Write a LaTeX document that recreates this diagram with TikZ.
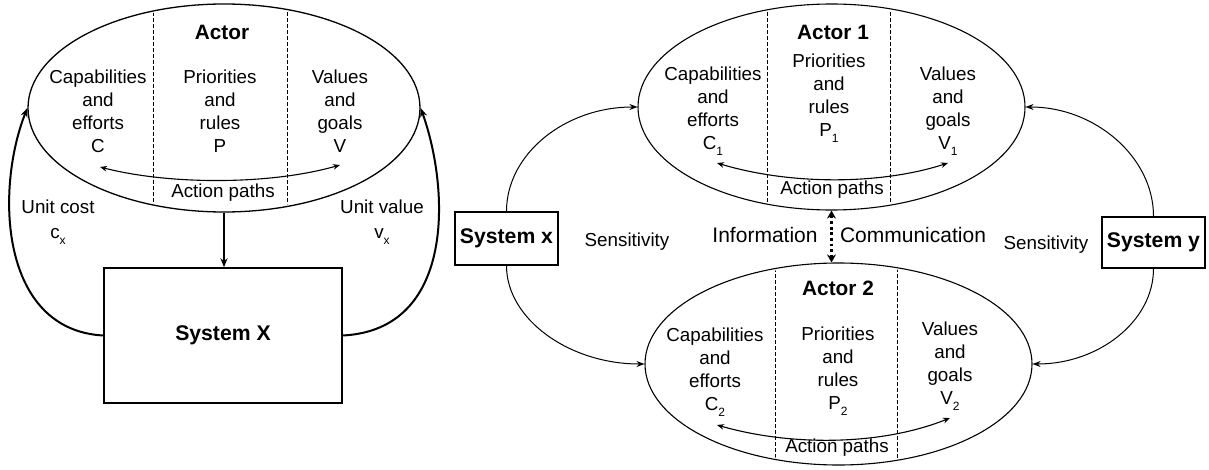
\documentclass[tikz,border=0pt]{standalone}
\usepackage{fontspec}
\setmainfont{Liberation Sans}
\usetikzlibrary{arrows.meta,shapes.geometric}
\newcommand{\lowsub}[1]{\raisebox{-0.55ex}{\fontsize{6}{6}\selectfont #1}}
\begin{document}
\begin{tikzpicture}[x=0.5pt,y=-0.5pt,
  lbl/.style={font=\fontsize{9.4}{11.5}\selectfont, align=center, inner sep=0pt},
  ttl/.style={font=\fontsize{10.4}{12}\selectfont\bfseries, inner sep=0pt},
  info/.style={font=\fontsize{10.5}{12}\selectfont, inner sep=0pt},
  actor/.style={draw, ellipse, line width=0.55pt, inner sep=0pt},
  sysbox/.style={draw, line width=0.7pt, inner sep=0pt, font=\fontsize{10.6}{12}\selectfont\bfseries},
  sep/.style={line width=0.5pt, dash pattern=on 2pt off 1pt},
  thinarr/.style={line width=0.5pt, -{Stealth[length=4pt,width=3pt]}},
  loopar/.style={line width=0.55pt, {Stealth[length=3.5pt,width=2.8pt]}-{Stealth[length=3.5pt,width=2.8pt]}},
  thickarr/.style={line width=1pt, -{Stealth[length=4.5pt,width=3.5pt]}}]
\useasboundingbox (0,0) rectangle (1209,470);

% ---------------- Left diagram ----------------
\node[actor, line width=0.65pt, minimum width=196pt, minimum height=104pt] (A) at (224,108) {};
\begin{scope}
  \clip (224,108) ellipse [x radius=97pt, y radius=51pt];
  \draw[sep] (153,0) -- (153,220);
  \draw[sep] (287,0) -- (287,220);
\end{scope}
\node[ttl] (At) at (222,32) {Actor};
\node[lbl] (Ac) at (98,111) {Capabilities\\and\\efforts\\C};
\node[lbl] (Ap) at (220,111) {Priorities\\and\\rules\\P};
\node[lbl] (Av) at (340,111) {Values\\and\\goals\\V};
\node[lbl] (Aa) at (223,193) {Action paths};
\coordinate (ac1) at (100,167);
\coordinate (ac2) at (340,165);
\draw[loopar] (ac1) .. controls (170,185) and (270,185) .. (ac2);

\node[sysbox, minimum width=119pt, minimum height=67.5pt] (X) at (223,335.5) {System X};
\draw[thickarr] (A.south) -- (A.south |- X.north);
\draw[thickarr] (X.west) .. controls (0,330) and (-5,190) .. (A.west);
\draw[thickarr] (X.east) .. controls (455,330) and (450,190) .. (A.east);
\node[lbl] (uc) at (58,222) {Unit cost\\[1pt]c\lowsub{x}};
\node[lbl] (uv) at (382,222) {Unit value\\[1pt]v\lowsub{x}};

% ---------------- Right diagram ----------------
\node[actor, minimum width=193.5pt, minimum height=103pt] (B1) at (831.5,107) {};
\begin{scope}
  \clip (831.5,107) ellipse [x radius=96pt, y radius=50.5pt];
  \draw[sep] (767,0) -- (767,220);
  \draw[sep] (890,0) -- (890,220);
\end{scope}
\node[ttl] (B1t) at (833,32) {Actor 1};
\node[lbl] (B1c) at (713,111) {Capabilities\\and\\efforts\\C\lowsub{1}};
\node[lbl] (B1p) at (829,98) {Priorities\\and\\rules\\P\lowsub{1}};
\node[lbl] (B1v) at (948,111) {Values\\and\\goals\\V\lowsub{1}};
\node[lbl] (B1a) at (832,190) {Action paths};
\coordinate (b1c1) at (717,163);
\coordinate (b1c2) at (948,163);
\draw[loopar] (b1c1) .. controls (790,185) and (880,185) .. (b1c2);

\node[actor, minimum width=193.5pt, minimum height=101pt] (B2) at (838.5,364) {};
\begin{scope}
  \clip (838.5,364) ellipse [x radius=96pt, y radius=49.5pt];
  \draw[sep] (775,250) -- (775,470);
  \draw[sep] (897,250) -- (897,470);
\end{scope}
\node[ttl] (B2t) at (838,288) {Actor 2};
\node[lbl] (B2c) at (715,372) {Capabilities\\and\\efforts\\C\lowsub{2}};
\node[lbl] (B2p) at (838,371) {Priorities\\and\\rules\\P\lowsub{2}};
\node[lbl] (B2v) at (950,366) {Values\\and\\goals\\V\lowsub{2}};
\node[lbl] (B2a) at (837,448) {Action paths};
\coordinate (b2c1) at (717,425);
\coordinate (b2c2) at (950,418);
\draw[loopar] (b2c1) .. controls (790,446) and (880,446) .. (b2c2);

\draw[line width=1.3pt, dash pattern=on 1.4pt off 1.4pt,
  {Stealth[length=4pt,width=4.5pt]}-{Stealth[length=4pt,width=4.5pt]}]
  (B1.south) -- (B1.south |- B2.north);
\node[info] (inf) at (765,235) {Information};
\node[info] (com) at (913,235) {Communication};

\node[sysbox, minimum width=51.5pt, minimum height=26.5pt] (Sx) at (506.5,238.5) {System x};
\node[sysbox, minimum width=51.5pt, minimum height=25.5pt] (Sy) at (1153.5,242.5) {System y};
\node[lbl] (sen1) at (627,242) {Sensitivity};
\node[lbl] (sen2) at (1046,245) {Sensitivity};

\draw[thinarr] (Sx.north) .. controls (506.5,154) and (565,107) .. (B1.west);
\draw[thinarr] (Sx.south) .. controls (506.5,319) and (569,364) .. (B2.west);
\draw[thinarr] (Sy.north) .. controls (1153.5,157) and (1095,107) .. (B1.east);
\draw[thinarr] (Sy.south) .. controls (1153.5,321) and (1099,364) .. (B2.east);
\end{tikzpicture}
\end{document}
